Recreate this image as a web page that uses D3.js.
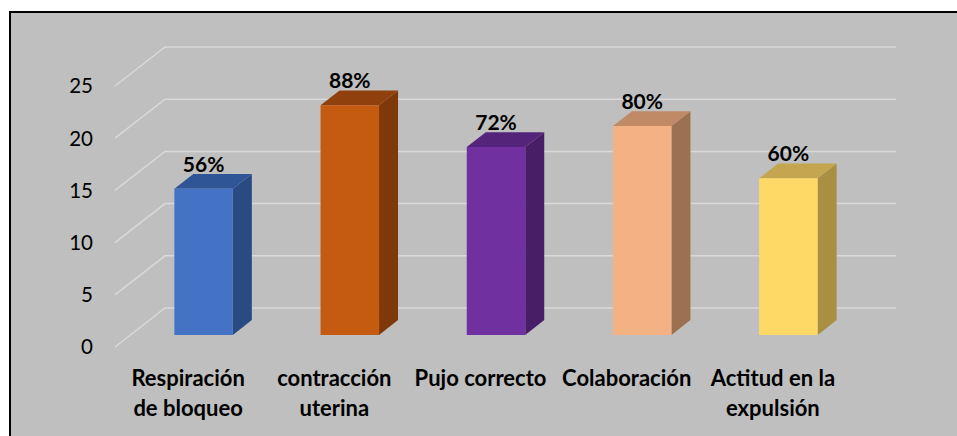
<html>
<head>
<meta charset="UTF-8">
<script src="https://d3js.org/d3.v7.min.js"></script>
<style>
  body { margin: 0; background: #fff; }
  svg { display: block; font-family: Lato, "Open Sans", sans-serif; }
</style>
</head>
<body>
<svg width="957" height="436"></svg>
<script>
// data
var categories = ["Respiración\nde bloqueo", "contracción\nuterina", "Pujo correcto", "Colaboración", "Actitud en la\nexpulsión"];
var values = [14, 22, 18, 20, 15];
var percents = ["56%", "88%", "72%", "80%", "60%"];
var yTicks = [0, 5, 10, 15, 20, 25];
var frontColors = ["#4472C4", "#C55A11", "#7030A0", "#F4B183", "#FFD966"];
var topColors = ["#2F5597", "#8F400C", "#532479", "#C08A66", "#C3A64F"];
var sideColors = ["#294A83", "#7F380A", "#481E69", "#9C7152", "#A88F41"];

var svg = d3.select("svg");

// chart frame
svg.append("rect").attr("x", 10).attr("y", 12).attr("width", 960).attr("height", 440)
  .attr("fill", "#BFBFBF").attr("stroke", "#000").attr("stroke-width", 2);

var floorY = 347, depthX = 50, depthY = -39;
var x = d3.scaleBand().domain(categories).range([115, 846]);
var y = d3.scaleLinear().domain([0, 25]).range([0, 261]);

// project a point at front x, value v, depth fraction d
function pt(px, v, d) {
  return [px + d * depthX, floorY - y(v) + d * depthY];
}

// gridlines: side diagonal + back wall
var grid = svg.append("g");
yTicks.forEach(function (t) {
  var a = pt(115, t, 0), b = pt(115, t, 1), c = pt(846, t, 1);
  grid.append("polyline")
    .attr("points", [a, b, c].map(function (p) { return p.join(","); }).join(" "))
    .attr("fill", "none").attr("stroke", "#D9D9D9").attr("stroke-width", 1.5);
  grid.append("text").attr("x", 93).attr("y", a[1]).attr("dy", "0.36em")
    .attr("text-anchor", "end").attr("font-size", 20.5).attr("fill", "#000").text(t);
});

// 3d bars
var f1 = 0.31, f2 = 0.69, bw = x.bandwidth() * 0.4;
var bars = svg.append("g").selectAll("g").data(values).enter().append("g");
bars.each(function (v, i) {
  var g = d3.select(this);
  var x0 = x(categories[i]) + (x.bandwidth() - bw) / 2, x1 = x0 + bw;
  function poly(pts, col) {
    g.append("polygon").attr("points", pts.map(function (p) { return p.join(","); }).join(" ")).attr("fill", col);
  }
  var fbl = pt(x0, 0, f1), fbr = pt(x1, 0, f1), ftl = pt(x0, v, f1), ftr = pt(x1, v, f1);
  var bbr = pt(x1, 0, f2), btl = pt(x0, v, f2), btr = pt(x1, v, f2);
  poly([fbr, bbr, btr, ftr], sideColors[i]);
  poly([ftl, ftr, btr, btl], topColors[i]);
  poly([fbl, fbr, ftr, ftl], frontColors[i]);
  g.append("text").attr("x", (ftl[0] + ftr[0]) / 2).attr("y", btl[1] - 2)
    .attr("text-anchor", "middle").attr("font-size", 21).attr("font-weight", "bold")
    .text(percents[i]);
});

// category labels
var labels = svg.append("g").selectAll("text").data(categories).enter().append("text")
  .attr("text-anchor", "middle").attr("font-size", 22).attr("font-weight", "bold")
  .attr("transform", function (d) { return "translate(" + (x(d) + x.bandwidth() / 2) + ",386)"; });
labels.selectAll("tspan").data(function (d) { return d.split("\n"); }).enter().append("tspan")
  .attr("x", 0).attr("y", function (d, i) { return i * 30; }).text(function (d) { return d; });
</script>
</body>
</html>
